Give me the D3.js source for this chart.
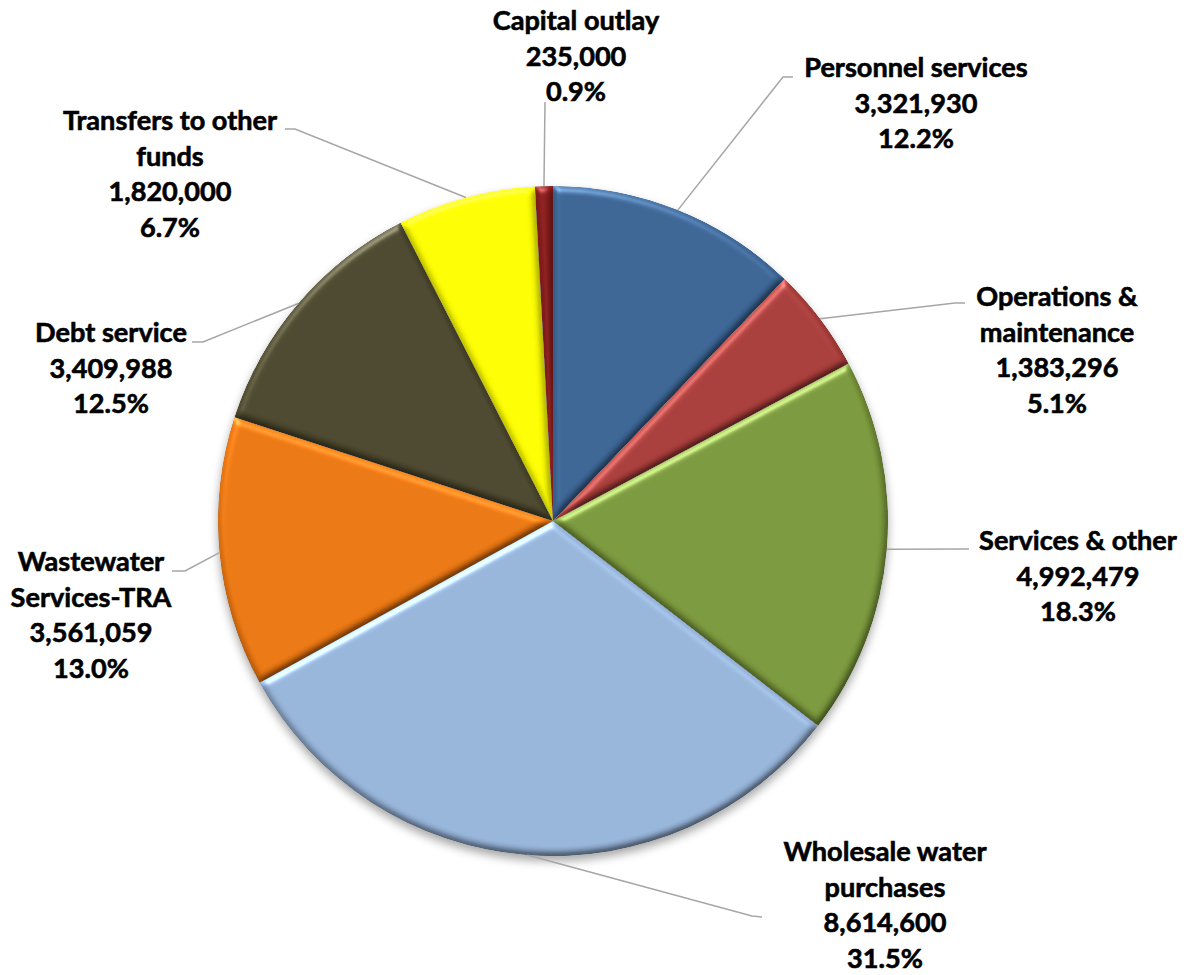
<!DOCTYPE html>
<html>
<head>
<meta charset="utf-8">
<script src="https://cdn.jsdelivr.net/npm/d3@7"></script>
<style>
  html, body { margin: 0; padding: 0; background: #fff; }
  svg { display: block; }
  .lbl { font-family: Lato, "Open Sans", sans-serif; font-weight: 700; fill: #000; stroke: #000; stroke-width: 0.6px; }
</style>
</head>
<body>
<svg id="chart" width="1191" height="975"></svg>
<script>
// Expenditure categories, clockwise from 12 o'clock
const categories = [
  "Personnel services",
  "Operations & maintenance",
  "Services & other",
  "Wholesale water purchases",
  "Wastewater Services-TRA",
  "Debt service",
  "Transfers to other funds",
  "Capital outlay"
];
// Category names as wrapped in the labels
const categoryLines = [
  ["Personnel services"],
  ["Operations &", "maintenance"],
  ["Services & other"],
  ["Wholesale water", "purchases"],
  ["Wastewater", "Services-TRA"],
  ["Debt service"],
  ["Transfers to other", "funds"],
  ["Capital outlay"]
];
const amounts = [3321930, 1383296, 4992479, 8614600, 3561059, 3409988, 1820000, 235000];
const sliceColors = ["#3B6595", "#AA3D3A", "#7B993C", "#97B5DB", "#EC7711", "#4B472D", "#FFFF00", "#8A1C1C"];

// Label placement: [centre x, first baseline y] and leader-line elbow points
const labelPos = [
  [916, 77], [1057, 306], [1078, 550], [885, 861],
  [91, 571], [111, 342], [170, 130], [576, 30]
];
const leaderEnds = [
  [[783, 77], [793, 77]],
  [[955, 303], [965, 303]],
  [[969, 549]],
  [[752, 916], [762, 917]],
  [[185, 571], [172, 571]],
  [[203, 342], [192, 342]],
  [[295, 129], [285, 129]],
  [[545, 102]]
];

const cx = 553, cy = 521, R = 335;
const lineH = 35.5;

const svg = d3.select("#chart");
const defs = svg.append("defs");

// Soft shadow beneath the pie
const sh = defs.append("filter").attr("id", "shadow")
  .attr("x", "-10%").attr("y", "-10%").attr("width", "120%").attr("height", "125%");
sh.append("feGaussianBlur").attr("in", "SourceAlpha").attr("stdDeviation", 5).attr("result", "b");
sh.append("feOffset").attr("in", "b").attr("dx", 0).attr("dy", 5).attr("result", "o");
sh.append("feComponentTransfer").attr("in", "o")
  .append("feFuncA").attr("type", "linear").attr("slope", 0.35);

// Rounded bevel on each slice
const bev = defs.append("filter").attr("id", "bevel")
  .attr("color-interpolation-filters", "sRGB")
  .attr("x", "-5%").attr("y", "-5%").attr("width", "110%").attr("height", "110%");
bev.append("feGaussianBlur").attr("in", "SourceAlpha").attr("stdDeviation", 3.5).attr("result", "blur");
const diff = bev.append("feDiffuseLighting").attr("in", "blur")
  .attr("surfaceScale", 3).attr("diffuseConstant", 1).attr("lighting-color", "#fff").attr("result", "diff");
diff.append("feDistantLight").attr("azimuth", 250).attr("elevation", 60);
bev.append("feComposite").attr("in", "SourceGraphic").attr("in2", "diff")
  .attr("operator", "arithmetic").attr("k1", 1.12).attr("k2", 0).attr("k3", 0).attr("k4", 0).attr("result", "lit");
const spec = bev.append("feSpecularLighting").attr("in", "blur")
  .attr("surfaceScale", 3).attr("specularConstant", 0.55).attr("specularExponent", 32)
  .attr("lighting-color", "#fff").attr("result", "spec");
spec.append("feDistantLight").attr("azimuth", 250).attr("elevation", 45);
bev.append("feComposite").attr("in", "spec").attr("in2", "SourceAlpha").attr("operator", "in").attr("result", "specIn");
bev.append("feComposite").attr("in", "lit").attr("in2", "specIn")
  .attr("operator", "arithmetic").attr("k1", 0).attr("k2", 1).attr("k3", 0.55).attr("k4", 0).attr("result", "out");
bev.append("feComposite").attr("in", "out").attr("in2", "SourceAlpha").attr("operator", "in");

const total = d3.sum(amounts);
const data = categories.map((c, i) => ({ name: c, lines: categoryLines[i], value: amounts[i], color: sliceColors[i] }));

const pie = d3.pie().value(d => d.value).sort(null);
const arcs = pie(data);
const arc = d3.arc().innerRadius(0).outerRadius(R);

const g = svg.append("g").attr("transform", `translate(${cx},${cy})`);

// shadow disc
g.append("circle").attr("r", R).attr("fill", "#000").attr("filter", "url(#shadow)");

g.selectAll("path.slice")
  .data(arcs)
  .join("path")
  .attr("class", "slice")
  .attr("d", arc)
  .attr("fill", d => d.data.color)
  .attr("filter", "url(#bevel)");

// Leader lines from slice edge to label
const fmtPct = d3.format(".1%");
const fmtNum = d3.format(",");
const edge = d3.arc().innerRadius(R).outerRadius(R);
const lineGen = d3.line();
svg.append("g").selectAll("path.leader")
  .data(arcs)
  .join("path")
  .attr("class", "leader")
  .attr("d", d => {
    const [x, y] = edge.centroid(d);
    return lineGen([[cx + x, cy + y], ...leaderEnds[d.index]]);
  })
  .attr("fill", "none")
  .attr("stroke", "#A6A6A6")
  .attr("stroke-width", 1.5);

// Font size fitted to the label face metrics
const probe = svg.append("text").attr("class", "lbl").attr("font-size", 100).text("Services & other");
const probeW = probe.node().getComputedTextLength();
probe.remove();
const fontSize = Math.min(30, 100 * 198 / probeW);

const labels = svg.append("g").selectAll("text.lbl")
  .data(arcs)
  .join("text")
  .attr("class", "lbl")
  .attr("font-size", fontSize)
  .attr("text-anchor", "middle");

labels.each(function(d) {
  const t = d3.select(this);
  const [lx, ly] = labelPos[d.index];
  const rows = [...d.data.lines, fmtNum(d.data.value), fmtPct(d.data.value / total)];
  rows.forEach((r, k) => {
    t.append("tspan").attr("x", lx).attr("y", ly + k * lineH).text(r);
  });
});
</script>
</body>
</html>
